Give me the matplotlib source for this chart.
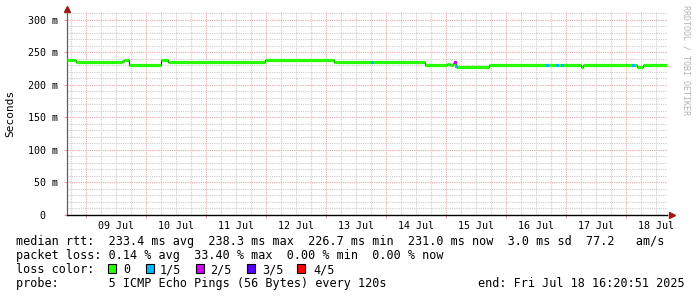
import numpy as np
import pandas as pd
import matplotlib
matplotlib.use('Agg')
import matplotlib.pyplot as plt
import matplotlib.dates as mdates
from matplotlib.patches import Rectangle

# median rtt (ms), piecewise constant from each breakpoint to the next
seg_time = ['2025-07-08 16:20:51', '2025-07-08 20:00', '2025-07-09 14:24', '2025-07-09 15:12',
            '2025-07-09 17:12', '2025-07-10 06:00', '2025-07-10 08:48', '2025-07-10 17:36',
            '2025-07-11 23:36', '2025-07-13 03:12', '2025-07-14 15:36', '2025-07-15 00:24',
            '2025-07-15 01:36', '2025-07-15 02:48', '2025-07-15 04:00', '2025-07-15 17:12',
            '2025-07-17 06:00', '2025-07-17 06:48', '2025-07-18 04:24', '2025-07-18 06:48',
            '2025-07-18 16:20:51']
median_rtt = [238.0, 235.0, 236.5, 238.0, 230.5, 238.0, 236.0, 235.0, 238.0, 235.0,
              230.5, 232.0, 230.5, 234.0, 227.0, 230.5, 227.5, 230.5, 227.0, 230.5]

# samples with packet loss (1/5, 2/5)
loss_time = ['2025-07-13 18:24', '2025-07-15 03:36', '2025-07-15 04:12', '2025-07-16 16:24',
             '2025-07-16 20:24', '2025-07-16 22:24', '2025-07-18 02:48']
loss_rtt = [235.0, 234.0, 229.0, 230.5, 230.5, 230.5, 230.5]
loss_level = [1, 2, 1, 1, 1, 1, 1]

loss_labels = ['0', '1/5', '2/5', '3/5', '4/5']
loss_colors = ['#26ff00', '#00b8ff', '#d400ff', '#5500ff', '#ff0000']

y_ticks = [0, 50, 100, 150, 200, 250, 300]
y_labels = ['0  ', '50 m', '100 m', '150 m', '200 m', '250 m', '300 m']

stats_line = 'median rtt:  233.4 ms avg  238.3 ms max  226.7 ms min  231.0 ms now  3.0 ms sd  77.2   am/s'
loss_line = 'packet loss: 0.14 % avg  33.40 % max  0.00 % min  0.00 % now'
probe_line = 'probe:       5 ICMP Echo Pings (56 Bytes) every 120s'
end_line = 'end: Fri Jul 18 16:20:51 2025'

plt.rcParams['font.family'] = 'DejaVu Sans Mono'
W, H = 697, 297
fig = plt.figure(figsize=(W / 100, H / 100), dpi=100, facecolor='white')
ax = fig.add_axes([67 / W, 1 - 215 / H, 600 / W, 203 / H])

t = pd.to_datetime(seg_time, format='mixed')
start, end = t[0], t[-1]
ax.set_xlim(start, end)
ax.set_ylim(0, 312.3)

# grid: dotted
minor_c, major_c = '#cccccc', '#e6a6a6'
gkw = dict(lw=0.8, ls=(0, (1, 1)), zorder=0)
for d in pd.date_range('2025-07-08 18:00', end, freq='6h'):
    if d.hour != 0:
        ax.axvline(d, color=minor_c, **gkw)
for d in pd.date_range('2025-07-09', end, freq='D'):
    ax.axvline(d, color=major_c, **gkw)
for v in range(10, 320, 10):
    c = major_c if v % 50 == 0 else minor_c
    ax.axhline(v, color=c, **gkw)

# median line
ax.step(t, median_rtt + [median_rtt[-1]], where='post', color='#222222', lw=0.8, zorder=2)
ax.hlines(median_rtt, t[:-1], t[1:], color=loss_colors[0], lw=2.3, zorder=3)
lt = pd.to_datetime(loss_time, format='mixed')
ax.scatter(lt, loss_rtt, c=[loss_colors[k] for k in loss_level], marker='s', s=5,
           linewidths=0, zorder=4)

# axes
for s in ['top', 'right']:
    ax.spines[s].set_visible(False)
ax.spines['left'].set_color('#606060')
ax.spines['bottom'].set_color('black')
ax.spines['left'].set_linewidth(0.9)
ax.spines['bottom'].set_linewidth(1.0)
ax.plot([0], [1.015], marker='^', color='#a01818', ms=4, transform=ax.transAxes, clip_on=False)
ax.plot([1.008], [0], marker='>', color='#a01818', ms=4, transform=ax.transAxes, clip_on=False)

days = pd.date_range('2025-07-09', end, freq='D')
ax.set_xticks(days)
ax.set_xticklabels([''] * len(days))
ax.tick_params(axis='x', which='major', length=2, color=major_c)
noons = days + pd.Timedelta(hours=12)
ax.set_xticks(noons, [d.strftime('%d %b') for d in noons], minor=True)
ax.tick_params(axis='x', which='minor', length=0, pad=4.5, labelsize=7.2)
ax.set_yticks(y_ticks, y_labels)
ax.tick_params(axis='y', length=2, color=major_c, pad=4.5, labelsize=7.2)

fig.text(10.7 / W, 1 - 113 / H, 'Seconds', rotation=90, ha='center', va='center', fontsize=8)
fig.text(686 / W, 1 - 60 / H, 'RRDTOOL / TOBI OETIKER', rotation=270, ha='center', va='center',
         fontsize=6, color='#b4b4b4')

# legend block
fs = 8.45
fig.text(16 / W, 1 - 245 / H, stats_line, fontsize=fs, va='baseline')
fig.text(16 / W, 1 - 259.3 / H, loss_line, fontsize=fs, va='baseline')
fig.text(16 / W, 1 - 273.3 / H, 'loss color:', fontsize=fs, va='baseline')
box_x = [108, 146, 196, 247, 297]
lab_x = [123, 160, 210, 262, 313]
for bx, lx, lab, col in zip(box_x, lab_x, loss_labels, loss_colors):
    fig.patches.append(Rectangle((bx / W, 1 - 272.7 / H), 8 / W, 8.4 / H, transform=fig.transFigure,
                                 facecolor=col, edgecolor='black', lw=0.8))
    fig.text(lx / W, 1 - 273.3 / H, lab, fontsize=fs, va='baseline')
fig.text(16 / W, 1 - 287.3 / H, probe_line, fontsize=fs, va='baseline')
fig.text(478 / W, 1 - 287.3 / H, end_line, fontsize=fs, va='baseline')

fig.savefig('out.png', dpi=100)
